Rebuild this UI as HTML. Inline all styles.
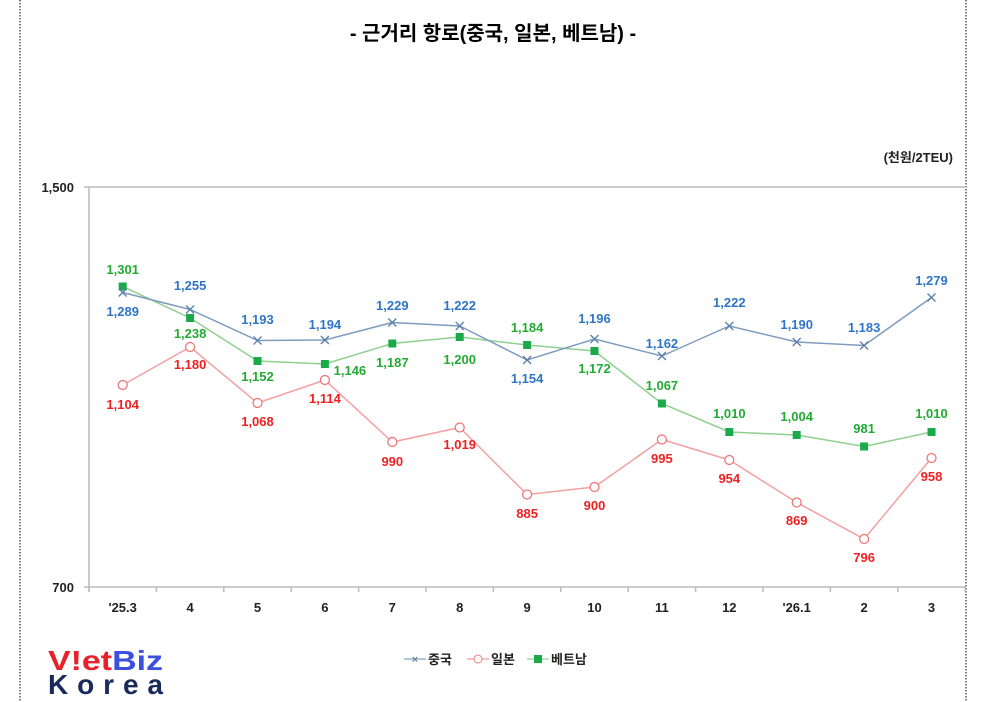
<!DOCTYPE html>
<html><head><meta charset="utf-8"><style>
body{margin:0;background:#fff;}
svg{display:block;font-family:"Liberation Sans","Noto Sans CJK KR",sans-serif;}
</style></head><body>
<svg width="1000" height="702" viewBox="0 0 1000 702" xmlns="http://www.w3.org/2000/svg">
<line x1="20" y1="0" x2="20" y2="702" stroke="#000" stroke-dasharray="1.5,1.5"/>
<line x1="966" y1="0" x2="966" y2="702" stroke="#000" stroke-dasharray="1.5,1.5"/>
<text x="493" y="40" font-size="20" font-weight="bold" text-anchor="middle">- 근거리 항로(중국, 일본, 베트남) -</text>
<text x="953" y="162" font-size="13" font-weight="bold" text-anchor="end" fill="#222">(천원/2TEU)</text>
<line x1="84" y1="187" x2="966" y2="187" stroke="#bbb" stroke-width="1.5"/>
<line x1="89" y1="187" x2="89" y2="592" stroke="#bbb" stroke-width="1.5"/>
<line x1="84" y1="587" x2="966" y2="587" stroke="#bbb" stroke-width="1.5"/>
<g stroke="#bbb" stroke-width="1.5" id="ticks"></g>
<text x="74" y="192" font-size="13" font-weight="bold" text-anchor="end" fill="#222">1,500</text>
<text x="74" y="592" font-size="13" font-weight="bold" text-anchor="end" fill="#222">700</text>
<g id="plot"></g>
<g font-size="13" font-weight="bold" fill="#222">
<line x1="404" y1="659" x2="426" y2="659" stroke="#6b8cae"/><text x="415" y="663" font-size="11" text-anchor="middle" fill="#6b8cae">×</text><text x="428" y="664">중국</text>
<line x1="467" y1="659" x2="489" y2="659" stroke="#f08080"/><circle cx="478" cy="659" r="4" fill="#fff" stroke="#f08080"/><text x="491" y="664">일본</text>
<line x1="527" y1="659" x2="549" y2="659" stroke="#7bc47b"/><rect x="534" y="655" width="8" height="8" fill="#1aaa4a"/><text x="551" y="664">베트남</text>
</g>
<text x="48" y="670" font-size="28" font-weight="bold" fill="#e8202a" textLength="115" lengthAdjust="spacingAndGlyphs">V!et<tspan fill="#3b4fe0">Biz</tspan></text>
<text x="48" y="694" font-size="28" font-weight="bold" fill="#1a2a5a" textLength="115" lengthAdjust="spacing">Korea</text>
</svg>
<script>
const ns="http://www.w3.org/2000/svg";
const X=i=>122.7+i*67.4, Y=v=>587-(v-700)*0.5;
const cats=["'25.3","4","5","6","7","8","9","10","11","12","'26.1","2","3"];
const tk=document.getElementById("ticks"),p=document.getElementById("plot");
function el(t,a,par){const e=document.createElementNS(ns,t);for(const k in a)e.setAttribute(k,a[k]);(par||p).appendChild(e);return e;}
for(let i=0;i<=13;i++)el("line",{x1:89+i*67.4,y1:587,x2:89+i*67.4,y2:592},tk);
cats.forEach((c,i)=>{const t=el("text",{x:X(i),y:612,"font-size":13,"font-weight":"bold","text-anchor":"middle",fill:"#222"});t.textContent=c;});
const cn=[1289,1255,1193,1194,1229,1222,1154,1196,1162,1222,1190,1183,1279];
const jp=[1104,1180,1068,1114,990,1019,885,900,995,954,869,796,958];
const vn=[1301,1238,1152,1146,1187,1200,1184,1172,1067,1010,1004,981,1010];
const cnL=[311,285,319,324,305,305,378,318,343,302,324,327,280];
const jpL=[404,364,421,398,461,444,513,505,458,478,520,557,476];
const vnL=[269,333,376,370,362,359,327,368,385,413,416,428,413];
function line(d,c){el("polyline",{points:d.map((v,i)=>X(i)+","+Y(v)).join(" "),fill:"none",stroke:c,"stroke-width":1.5});}
line(jp,"#f4a0a0");line(vn,"#8fd08f");line(cn,"#7f9cbf");
const fmt=v=>v.toLocaleString("en-US");
jp.forEach((v,i)=>el("circle",{cx:X(i),cy:Y(v),r:4.5,fill:"#fff",stroke:"#f07070","stroke-width":1.2}));
vn.forEach((v,i)=>el("rect",{x:X(i)-4,y:Y(v)-4,width:8,height:8,fill:"#1aaa4a"}));
cn.forEach((v,i)=>{const x=X(i),y=Y(v);el("path",{d:`M${x-4} ${y-4}L${x+4} ${y+4}M${x-4} ${y+4}L${x+4} ${y-4}`,stroke:"#5a7fa8","stroke-width":1.3});});
function labs(d,L,c,dx){d.forEach((v,i)=>{const t=el("text",{x:X(i)+(dx&&dx[i]||0),y:L[i]+5,"font-size":13,"font-weight":"bold","text-anchor":"middle",fill:c});t.textContent=fmt(v);});}
labs(cn,cnL,"#2e75c8");labs(jp,jpL,"#f02020");labs(vn,vnL,"#22aa33",[0,0,0,25,0,0,0,0,0,0,0,0,0]);
</script>
</body></html>
